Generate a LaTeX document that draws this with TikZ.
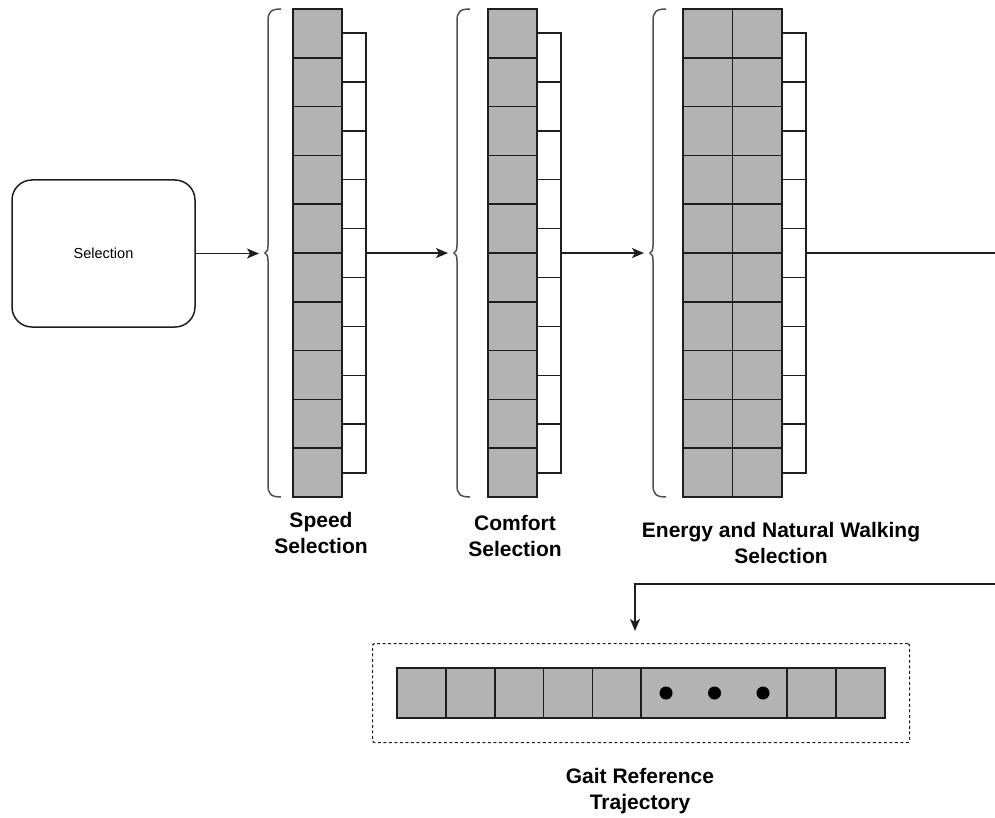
\documentclass[tikz,border=0pt]{standalone}
\usepackage{fontspec}
\setmainfont{Liberation Sans}
\usetikzlibrary{arrows.meta}
\definecolor{cellfill}{RGB}{179,179,179}
\definecolor{edge}{RGB}{30,30,30}
\definecolor{bracecol}{RGB}{80,80,80}
\begin{document}
\begin{tikzpicture}[x=1pt,y=-1pt,
  greycell/.style={draw=edge, fill=cellfill, line width=1.5pt, minimum width=49pt,
    minimum height=48.8pt, inner sep=0pt, outer sep=0pt, anchor=north west},
  whitecell/.style={draw=edge, fill=white, line width=1.5pt, minimum width=24pt,
    minimum height=48.9pt, inner sep=0pt, outer sep=0pt, anchor=north west},
  trajcell/.style={draw=edge, fill=cellfill, line width=1.5pt, minimum height=50pt,
    inner sep=0pt, outer sep=0pt, anchor=north west},
  conn/.style={draw=edge, line width=1.6pt, -{Stealth[length=12pt,width=10pt,inset=3pt]}},
  bracepath/.style={draw=bracecol, line width=1.5pt},
  label/.style={font=\fontsize{21}{26}\selectfont\bfseries, align=center, inner sep=0pt},
  dot/.style={fill=black}]
\clip (0,0) rectangle (995,818);

% input block
\node[draw=edge, line width=1.5pt, rounded corners=20pt, minimum width=183pt,
  minimum height=147pt, inner sep=0pt, font=\fontsize{14.5}{17}\selectfont]
  (sel) at (103.5,253.5) {Selection};

% curly braces in front of each stage
\foreach \X/\n in {268/br1, 457/br2, 653/br3} {
  \draw[bracepath] ({\X+13},9) .. controls ({\X+3},9) and (\X,12) .. (\X,21)
    -- (\X,245) .. controls (\X,250) and ({\X-1},252) .. ({\X-3},253)
    .. controls ({\X-1},254) and (\X,256) .. (\X,261)
    -- (\X,485) .. controls (\X,494) and ({\X+3},497) .. ({\X+13},497);
  \coordinate (\n) at ({\X-9},253);
}

% stage 1: speed
\foreach \i in {0,...,9} \node[greycell] (sa\i) at (293,{9+48.8*\i}) {};
\foreach \i in {0,...,8} \node[whitecell] (sw\i) at (342,{33+48.9*\i}) {};

% stage 2: comfort
\foreach \i in {0,...,9} \node[greycell] (ca\i) at (488,{9+48.8*\i}) {};
\foreach \i in {0,...,8} \node[whitecell] (cw\i) at (537,{33+48.9*\i}) {};

% stage 3: energy and natural walking (two columns)
\foreach \i in {0,...,9} {
  \node[greycell, minimum width=49.5pt] (ea\i) at (683,{9+48.8*\i}) {};
  \node[greycell, minimum width=49.5pt] (eb\i) at (732.5,{9+48.8*\i}) {};
}
\foreach \i in {0,...,8} \node[whitecell] (ew\i) at (782,{33+48.9*\i}) {};

% stage labels
\node[label, anchor=north] (lspeed) at (321,512) {Speed\\Selection};
\node[label, anchor=north] (lcomfort) at (515,515) {Comfort\\Selection};
\node[label, anchor=north] (lenergy) at (781,522) {Energy and Natural Walking\\Selection};

% output trajectory
\node[draw=edge, dash pattern=on 3pt off 2.5pt, line width=1.2pt, rounded corners=1.5pt,
  minimum width=537pt, minimum height=99pt, inner sep=0pt, anchor=north west]
  (frame) at (372,643) {};
\node[trajcell, minimum width=49pt] (t1) at (397,668) {};
\node[trajcell, minimum width=49pt] (t2) at (446,668) {};
\node[trajcell, minimum width=48.5pt] (t3) at (495,668) {};
\node[trajcell, minimum width=49pt] (t4) at (543.5,668) {};
\node[trajcell, minimum width=48.5pt] (t5) at (592.5,668) {};
\node[trajcell, minimum width=146pt] (tdots) at (641,668) {};
\node[trajcell, minimum width=49pt] (t6) at (787,668) {};
\node[trajcell, minimum width=49pt] (t7) at (836,668) {};
\fill[dot] (666,693) circle (6.5pt);
\fill[dot] (714.5,693) circle (6.5pt);
\fill[dot] (763,693) circle (6.5pt);
\node[label, anchor=north] (lgait) at (640,768) {Gait Reference\\Trajectory};

% connectors
\coordinate (outA) at (1003,253);
\coordinate (outB) at (1003,584);
\coordinate (turn) at (635,584);
\coordinate (drop) at (635,631);
\draw[conn] (sel.east) -- (sel.east -| br1);
\draw[conn] (sw4.east) -- (sw4.east -| br2);
\draw[conn] (cw4.east) -- (cw4.east -| br3);
\draw[conn] (ew4.east) -- (outA) -- (outB) -- (turn) -- (drop);
\end{tikzpicture}
\end{document}
